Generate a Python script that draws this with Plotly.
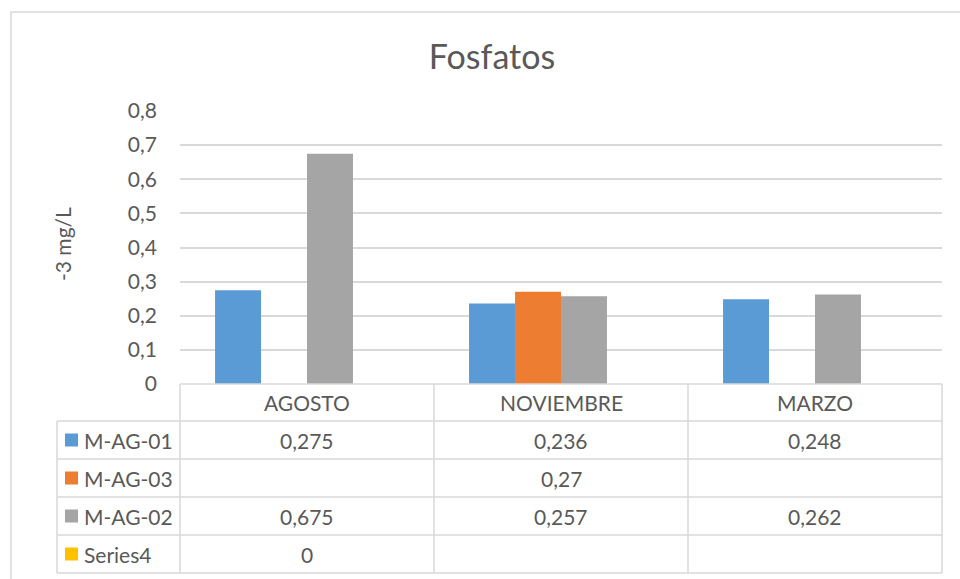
import plotly.graph_objects as go

# ---------------- data ----------------
categories = ["AGOSTO", "NOVIEMBRE", "MARZO"]
series_names = ["M-AG-01", "M-AG-03", "M-AG-02", "Series4"]
m_ag_01 = [0.275, 0.236, 0.248]
m_ag_03 = [None, 0.27, None]
m_ag_02 = [0.675, 0.257, 0.262]
series4 = [0, None, None]
series_values = [m_ag_01, m_ag_03, m_ag_02, series4]
series_colors = ["#5B9BD5", "#ED7D31", "#A5A5A5", "#FFC000"]
y_ticks = [0, 0.1, 0.2, 0.3, 0.4, 0.5, 0.6, 0.7, 0.8]
y_tick_labels = ["0", "0,1", "0,2", "0,3", "0,4", "0,5", "0,6", "0,7", "0,8"]
title_text = "Fosfatos"
y_title = "-3 mg/L"

# ---------------- layout constants ----------------
W, H = 960, 579
L, R, T, B = 180, 18, 111, 195
PW = W - L - R
PH = H - T - B
TEXT = "#595959"
GRID = "#D9D9D9"
FONT = "Lato"
FS = 21


def px_x(px):
    return (px - L) / PW


def px_y(py):
    return (H - B - py) / PH


def fmt(v):
    if v is None:
        return ""
    s = ("%g" % v).replace(".", ",")
    return s


fig = go.Figure()
for name, vals, col in zip(series_names, series_values, series_colors):
    fig.add_trace(go.Bar(
        x=categories, y=vals, name=name,
        marker=dict(color=col, line=dict(width=0)),
        hoverinfo="x+y+name",
    ))

shapes = []
annotations = []

# table geometry (pixels)
top = H - B
header_h = 37
row_h = 38
leg_left = 57
n = len(categories)
row_tops = [top + header_h + i * row_h for i in range(len(series_names) + 1)]
line = dict(color=GRID, width=1.5)

# horizontal lines
shapes.append(dict(type="line", xref="paper", yref="paper", x0=0, x1=1,
                   y0=px_y(top), y1=px_y(top), line=line, layer="above"))
for ry in row_tops:
    shapes.append(dict(type="line", xref="paper", yref="paper", x0=px_x(leg_left), x1=1,
                       y0=px_y(ry), y1=px_y(ry), line=line, layer="above"))
bottom = row_tops[-1]
# vertical lines
shapes.append(dict(type="line", xref="paper", yref="paper", x0=px_x(leg_left), x1=px_x(leg_left),
                   y0=px_y(row_tops[0]), y1=px_y(bottom), line=line))
for i in range(n + 1):
    xp = i / n
    shapes.append(dict(type="line", xref="paper", yref="paper", x0=xp, x1=xp,
                       y0=px_y(top), y1=px_y(bottom), line=line))

# category headers
for i, c in enumerate(categories):
    annotations.append(dict(text=c, xref="paper", yref="paper", x=(i + 0.5) / n,
                            y=px_y(top + header_h / 2), showarrow=False,
                            xanchor="center", yanchor="middle",
                            font=dict(family=FONT, size=FS, color=TEXT)))

# rows
for r, (name, vals, col) in enumerate(zip(series_names, series_values, series_colors)):
    cy = row_tops[r] + row_h / 2
    shapes.append(dict(type="rect", xref="paper", yref="paper",
                       x0=px_x(65), x1=px_x(78), y0=px_y(cy - 6.5), y1=px_y(cy + 6.5),
                       fillcolor=col, line=dict(width=0)))
    annotations.append(dict(text=name, xref="paper", yref="paper", x=px_x(82),
                            y=px_y(cy), showarrow=False, xanchor="left", yanchor="middle",
                            font=dict(family=FONT, size=FS, color=TEXT)))
    for i, v in enumerate(vals):
        t = fmt(v)
        if t:
            annotations.append(dict(text=t, xref="paper", yref="paper", x=(i + 0.5) / n,
                                    y=px_y(cy), showarrow=False, xanchor="center",
                                    yanchor="middle",
                                    font=dict(family=FONT, size=FS, color=TEXT)))

# y axis title
annotations.append(dict(text=y_title, xref="paper", yref="paper", x=px_x(62), y=px_y(244),
                        textangle=-90, showarrow=False, xanchor="center", yanchor="middle",
                        font=dict(family=FONT, size=FS, color=TEXT)))

# chart border
shapes.append(dict(type="rect", xref="paper", yref="paper",
                   x0=px_x(11), x1=px_x(1000), y0=px_y(12), y1=px_y(620),
                   line=dict(color=GRID, width=1.5), fillcolor="rgba(0,0,0,0)"))

fig.update_layout(
    width=W, height=H,
    margin=dict(l=L, r=R, t=T, b=B),
    paper_bgcolor="white", plot_bgcolor="white",
    separators=",.",
    barmode="group", bargap=0.276, bargroupgap=0,
    showlegend=False,
    title=dict(text=title_text, x=492 / W, xanchor="center", y=1 - 57 / H, yanchor="middle",
               xref="container", yref="container",
               font=dict(family=FONT, size=34, color=TEXT)),
    font=dict(family=FONT, size=FS, color=TEXT),
    shapes=shapes,
    annotations=annotations,
    xaxis=dict(showticklabels=False, showline=False, showgrid=False, zeroline=False,
               ticks="", range=[-0.5, n - 0.5]),
    yaxis=dict(range=[0, 0.8], tickvals=y_ticks, ticktext=y_tick_labels,
               showgrid=True, gridcolor=GRID, gridwidth=1.5, zeroline=False,
               showline=False, ticks="", ticklabelstandoff=22,
               tickfont=dict(family=FONT, size=FS, color=TEXT)),
)

fig.write_html("out.html", config={"displayModeBar": False},
               post_script="document.body.style.margin='0';document.body.style.overflow='hidden';")
